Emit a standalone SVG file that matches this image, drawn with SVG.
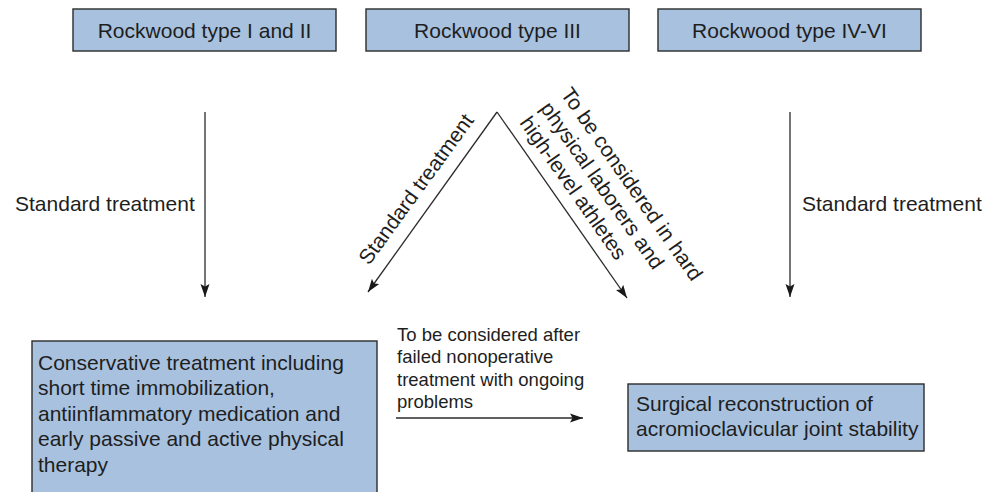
<svg xmlns="http://www.w3.org/2000/svg" width="997" height="492" viewBox="0 0 997 492">
<style>
.box{fill:#a7c1de;stroke:#2b2b2b;stroke-width:1.4}
.t{font-family:"Liberation Sans",Arial,sans-serif;font-size:21px;fill:#1e1e1e}
.s{font-family:"Liberation Sans",Arial,sans-serif;font-size:18.5px;fill:#1e1e1e}
.c{text-anchor:middle}
.ln{stroke:#2b2b2b;stroke-width:1.3;fill:none;marker-end:url(#ah)}
</style>
<defs>
<marker id="ah" markerUnits="userSpaceOnUse" viewBox="0 0 13 10" refX="13" refY="5" markerWidth="13" markerHeight="10" orient="auto">
<path d="M0,0.5 L13,5 L0,9.5 L2.5,5 Z" fill="#1a1a1a"/>
</marker>
</defs>
<rect width="997" height="492" fill="#ffffff"/>
<g id="node-type-1-2">
<rect class="box" x="73" y="9" width="263" height="42"/>
<text class="t c" x="204.5" y="37.5">Rockwood type I and II</text>
</g>
<g id="node-type-3">
<rect class="box" x="366" y="9" width="263" height="42"/>
<text class="t c" x="497.5" y="37.5">Rockwood type III</text>
</g>
<g id="node-type-4-6">
<rect class="box" x="658" y="9" width="263" height="42"/>
<text class="t c" x="789.5" y="37.5">Rockwood type IV-VI</text>
</g>
<g id="node-conservative">
<rect class="box" x="32" y="341" width="345" height="160"/>
<text class="t" x="38" y="370">Conservative treatment including</text>
<text class="t" x="38" y="395.4">short time immobilization,</text>
<text class="t" x="38" y="420.8">antiinflammatory medication and</text>
<text class="t" x="38" y="446.2">early passive and active physical</text>
<text class="t" x="38" y="471.6">therapy</text>
</g>
<g id="node-surgical">
<rect class="box" x="628" y="384" width="296" height="67"/>
<text class="t" x="636" y="410.5">Surgical reconstruction of</text>
<text class="t" x="636" y="435.5">acromioclavicular joint stability</text>
</g>
<g id="connectors">
<line class="ln" x1="205" y1="112" x2="205" y2="297"/>
<line class="ln" x1="790" y1="112" x2="790" y2="297"/>
<line class="ln" x1="497" y1="112" x2="368" y2="292"/>
<line class="ln" x1="497" y1="112" x2="627" y2="298"/>
<line class="ln" x1="396" y1="418" x2="583" y2="418"/>
<text class="t" x="15" y="211">Standard treatment</text>
<text class="t" x="802" y="211">Standard treatment</text>
<text class="t" transform="translate(369,266) rotate(-54)">Standard treatment</text>
<g transform="translate(560,94) rotate(55)">
<text class="t" x="0" y="0">To be considered in hard</text>
<text class="t" x="0" y="25">physical laborers and</text>
<text class="t" x="0" y="50">high-level athletes</text>
</g>
<text class="s" x="397" y="341">To be considered after</text>
<text class="s" x="397" y="363.3">failed nonoperative</text>
<text class="s" x="397" y="385.6">treatment with ongoing</text>
<text class="s" x="397" y="408">problems</text>
</g>
</svg>
